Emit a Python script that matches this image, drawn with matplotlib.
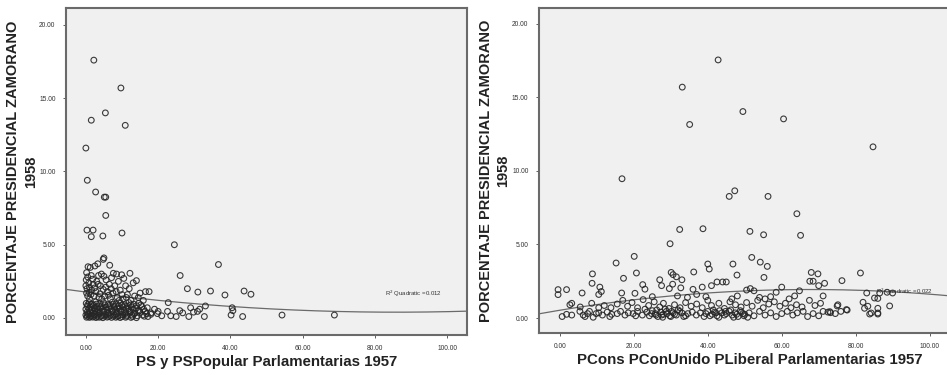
import matplotlib
matplotlib.use("Agg")
import matplotlib.pyplot as plt
import numpy as np

# ---------------- data ----------------
y_label = "PORCENTAJE PRESIDENCIAL ZAMORANO\n1958"
x_label_left = "PS y PSPopular Parlamentarias 1957"
x_label_right = "PCons PConUnido PLiberal Parlamentarias 1957"
x_ticks = [0, 20, 40, 60, 80, 100]
y_ticks = [0, 5, 10, 15, 20]
r2_left = "R$^2$ Quadratic =0.012"
r2_right = "R$^2$ Quadratic =0.022"

ps_points = [
    # outliers
    (2.2, 17.6), (9.7, 15.7), (5.4, 14.0), (1.5, 13.5), (10.9, 13.15), (0.0, 11.6),
    (0.4, 9.4), (2.7, 8.6), (5.1, 8.25), (5.5, 8.25), (5.5, 7.0), (0.3, 6.0), (2.0, 6.0),
    (1.5, 5.55), (4.7, 5.6), (10.0, 5.8), (24.5, 5.0), (5.0, 4.1), (4.8, 4.0), (36.7, 3.65),
    (26.1, 2.9), (28.1, 2.0), (31.0, 1.77), (34.5, 1.84), (38.5, 1.57), (43.8, 1.84),
    (45.7, 1.62), (54.3, 0.2), (68.8, 0.2),
    # scattered mid x
    (22.8, 1.05), (22.6, 0.45), (23.5, 0.15), (25.0, 0.1), (26.8, 0.35), (28.5, 0.1),
    (29.8, 0.4), (30.9, 0.45), (31.5, 0.6), (33.1, 0.82), (32.8, 0.1), (40.5, 0.7),
    (40.7, 0.5), (40.2, 0.2), (43.4, 0.1), (19.8, 0.3), (18.0, 0.35), (20.0, 0.45),
    (21.0, 0.15), (26.0, 0.5), (29.0, 0.7), (17.2, 0.1), (19.0, 0.6),
    # cluster upper
    (0.6, 3.5), (1.2, 3.45), (2.5, 3.55), (3.3, 3.7), (6.6, 3.6), (0.2, 3.1), (0.5, 2.8),
    (1.5, 2.9), (3.5, 2.9), (4.3, 3.0), (7.6, 3.05), (8.5, 3.0), (9.9, 2.95), (12.2, 3.05),
    (7.1, 2.75), (5.6, 2.6), (9.0, 2.5), (10.5, 2.7), (13.1, 2.4), (14.0, 2.55), (0.8, 2.4),
    (2.0, 2.3), (3.0, 2.5), (4.0, 2.2), (6.5, 2.3), (8.0, 2.2), (11.0, 2.2), (12.0, 2.0),
    (0.3, 2.0), (1.6, 1.9), (2.8, 1.8), (4.8, 1.95), (6.0, 1.8), (7.5, 1.7), (9.5, 1.9),
    (11.5, 1.6), (15.0, 1.7), (16.5, 1.8), (17.5, 1.8), (15.9, 1.2), (13.5, 1.5), (14.5, 1.4),
    (0.5, 1.5), (1.0, 1.3), (2.3, 1.5), (3.6, 1.4), (5.2, 1.5), (6.8, 1.3), (8.7, 1.4),
    (10.3, 1.3), (12.5, 1.2), (0.1, 2.6), (1.9, 2.65), (5.0, 2.85), (3.9, 1.65), (0.9, 1.75),
    (0.0, 2.2), (1.0, 2.1), (2.4, 2.05), (3.4, 2.3), (5.5, 2.1), (7.0, 2.0), (8.4, 1.8),
    (10.0, 1.6), (0.2, 1.7), (1.4, 1.6), (4.4, 1.3), (6.3, 1.55), (9.2, 1.2), (11.2, 1.4),
    # cluster dense lower
    (0.1, 1.0), (0.9, 1.05), (1.8, 0.95), (2.7, 1.1), (3.8, 0.98), (4.9, 1.05), (6.1, 0.92),
    (7.3, 1.08), (8.4, 0.97), (9.6, 1.02), (10.8, 0.9), (11.9, 1.05), (13.2, 0.95), (14.6, 1.0),
    (0.4, 0.8), (1.3, 0.75), (2.2, 0.85), (3.2, 0.78), (4.3, 0.82), (5.5, 0.74), (6.6, 0.86),
    (7.8, 0.79), (9.0, 0.83), (10.2, 0.76), (11.4, 0.8), (12.6, 0.72), (14.0, 0.84),
    (15.5, 0.78), (17.0, 0.7),
    (0.0, 0.6), (0.8, 0.62), (1.7, 0.55), (2.6, 0.65), (3.5, 0.58), (4.6, 0.6), (5.8, 0.56),
    (7.0, 0.64), (8.1, 0.57), (9.3, 0.61), (10.5, 0.55), (11.8, 0.63), (13.1, 0.58),
    (14.4, 0.52), (16.0, 0.6),
    (0.3, 0.4), (1.1, 0.42), (2.0, 0.36), (2.9, 0.44), (3.9, 0.38), (5.0, 0.41), (6.2, 0.35),
    (7.4, 0.43), (8.6, 0.39), (9.8, 0.42), (11.0, 0.37), (12.3, 0.4), (13.6, 0.34),
    (15.0, 0.38), (16.8, 0.3), (18.0, 0.25),
    (0.0, 0.2), (0.7, 0.22), (1.5, 0.18), (2.4, 0.24), (3.3, 0.2), (4.4, 0.17), (5.5, 0.23),
    (6.7, 0.19), (7.9, 0.21), (9.0, 0.16), (10.2, 0.22), (11.5, 0.18), (12.8, 0.2),
    (14.2, 0.15), (15.7, 0.2),
    (0.2, 0.05), (1.0, 0.04), (1.9, 0.06), (2.8, 0.03), (3.7, 0.05), (4.7, 0.02), (5.9, 0.06),
    (7.1, 0.04), (8.3, 0.05), (9.5, 0.03), (11.0, 0.05), (12.5, 0.04), (14.0, 0.02),
    (0.5, 0.9), (1.4, 0.92), (2.3, 0.68), (3.0, 0.95), (4.1, 0.7), (5.3, 0.9), (6.4, 0.7),
    (7.6, 0.92), (8.8, 0.68), (10.0, 0.88), (11.2, 0.66), (12.4, 0.9), (13.8, 0.68),
    (15.2, 0.9), (16.4, 0.45), (0.6, 0.3), (1.6, 0.3), (2.5, 0.5), (3.6, 0.3), (4.8, 0.5),
    (6.0, 0.28), (7.2, 0.5), (8.4, 0.28), (9.6, 0.5), (10.8, 0.28), (12.0, 0.5),
    (13.3, 0.27), (14.8, 0.48), (16.2, 0.12), (0.4, 0.12), (1.3, 0.1), (2.2, 0.12),
    (3.1, 0.1), (4.1, 0.1), (5.2, 0.12), (6.4, 0.1), (7.6, 0.12), (8.8, 0.1), (10.0, 0.1),
    (11.3, 0.12), (12.9, 0.1),
]

pcons_points = [
    # outliers
    (42.8, 17.55), (33.1, 15.7), (49.5, 14.04), (35.1, 13.16), (60.5, 13.54), (84.7, 11.64),
    (16.8, 9.47), (45.8, 8.27), (47.3, 8.65), (56.3, 8.27), (64.1, 7.09), (65.1, 5.62),
    (32.4, 6.02), (38.7, 6.07), (51.4, 5.89), (55.1, 5.66), (29.8, 5.05), (20.1, 4.19),
    (15.2, 3.74), (51.9, 4.12), (54.2, 3.8), (56.1, 3.51), (40.0, 3.67), (40.4, 3.33),
    (46.8, 3.67), (30.1, 3.1), (30.6, 2.95), (20.7, 3.06), (17.2, 2.7), (8.8, 3.0), (8.7, 2.36),
    (47.9, 2.92), (36.2, 3.13), (68.0, 3.1), (69.8, 3.0), (81.3, 3.06), (76.3, 2.54),
    (55.2, 2.76), (27.0, 2.6), (31.5, 2.8), (33.0, 2.6), (71.6, 2.36),
    # y 1.3 - 2.5
    (-0.5, 1.93), (1.8, 1.93), (-0.5, 1.59), (6.0, 1.7), (10.8, 2.1), (11.2, 1.8), (10.5, 1.6),
    (16.7, 1.7), (20.3, 1.68), (22.4, 2.27), (23.0, 1.96), (25.0, 1.45), (27.5, 2.2),
    (29.6, 2.0), (30.5, 2.3), (31.8, 1.5), (32.7, 2.05), (34.5, 1.4), (36.0, 1.95),
    (37.0, 1.6), (38.5, 2.1), (39.5, 1.45), (41.0, 2.2), (42.5, 2.45), (44.0, 2.45),
    (45.0, 2.45), (46.5, 1.3), (48.0, 1.5), (50.5, 1.9), (51.5, 2.0), (52.5, 1.85),
    (54.0, 1.4), (55.5, 1.3), (57.0, 1.45), (58.5, 1.75), (60.0, 2.1), (62.0, 1.3),
    (63.5, 1.5), (67.6, 2.5), (68.5, 2.5), (70.0, 2.2), (71.2, 1.5), (64.8, 1.85),
    (85.1, 1.36), (86.5, 1.7), (88.5, 1.75), (90.0, 1.7), (83.0, 1.7),
    # y 0.6 - 1.3
    (2.7, 0.9), (3.2, 1.0), (5.5, 0.75), (8.6, 1.0), (10.5, 0.7), (12.0, 0.85), (13.8, 0.7),
    (15.5, 0.95), (17.0, 1.2), (18.3, 0.8), (19.5, 1.05), (21.0, 0.7), (22.5, 1.25),
    (24.0, 0.85), (25.5, 1.1), (27.0, 0.75), (28.0, 1.0), (29.5, 0.65), (31.0, 0.9),
    (32.5, 0.7), (34.0, 1.05), (35.5, 0.8), (37.0, 0.95), (38.5, 0.7), (40.0, 1.2),
    (41.0, 0.85), (43.0, 1.0), (44.5, 0.65), (46.0, 1.1), (47.5, 0.9), (49.0, 0.75),
    (50.5, 1.05), (52.0, 0.8), (53.5, 1.2), (55.0, 0.7), (56.5, 0.95), (58.0, 1.1),
    (59.5, 0.8), (61.0, 1.0), (62.5, 0.7), (64.0, 0.9), (65.5, 0.75), (67.5, 1.2),
    (69.0, 0.85), (70.5, 1.0), (75.0, 0.82), (75.2, 0.9), (77.5, 0.57), (82.0, 1.07),
    (83.3, 0.8), (86.0, 1.33), (89.2, 0.82), (82.4, 0.66), (86.0, 0.66), (77.7, 0.54),
    # y 0 - 0.5
    (0.6, 0.1), (1.8, 0.25), (3.2, 0.2), (5.4, 0.45), (6.3, 0.2), (6.8, 0.1), (7.5, 0.3),
    (9.0, 0.05), (10.5, 0.35), (11.5, 0.2), (12.8, 0.4), (14.0, 0.25), (15.5, 0.3),
    (16.4, 0.45), (17.6, 0.2), (18.5, 0.35), (19.8, 0.3), (21.0, 0.45), (22.3, 0.2),
    (23.5, 0.4), (24.2, 0.15), (25.0, 0.5), (25.8, 0.3), (26.5, 0.1), (27.3, 0.4),
    (28.0, 0.25), (28.8, 0.45), (29.7, 0.15), (30.6, 0.35), (31.5, 0.2), (32.4, 0.45),
    (33.5, 0.1), (34.6, 0.3), (35.8, 0.4), (36.9, 0.2), (38.0, 0.35), (39.0, 0.1),
    (40.0, 0.45), (41.2, 0.25), (42.5, 0.15), (43.8, 0.35), (45.0, 0.3), (45.8, 0.45),
    (46.6, 0.2), (47.4, 0.35), (48.2, 0.1), (49.1, 0.4), (50.0, 0.25), (51.2, 0.35),
    (52.5, 0.15), (54.0, 0.45), (55.5, 0.2), (57.0, 0.35), (58.5, 0.1), (60.0, 0.3),
    (61.5, 0.45), (63.0, 0.2), (64.2, 0.35), (65.8, 0.45), (67.0, 0.1), (68.5, 0.3),
    (70.0, 0.15), (71.2, 0.45), (72.5, 0.4), (73.0, 0.43), (73.2, 0.36), (74.5, 0.3),
    (76.0, 0.45), (83.8, 0.27), (84.2, 0.34), (86.0, 0.27), (86.0, 0.34),
    (26.0, 0.2), (27.8, 0.05), (29.0, 0.3), (30.0, 0.1), (41.8, 0.4), (43.0, 0.05),
    (44.5, 0.2), (47.0, 0.05), (49.8, 0.15), (50.8, 0.05),
    (23.0, 0.6), (24.8, 0.3), (26.2, 0.55), (27.5, 0.2), (28.5, 0.6), (30.2, 0.45),
    (31.0, 0.25), (32.0, 0.55), (33.0, 0.35), (34.0, 0.15), (39.5, 0.3), (40.6, 0.15),
    (41.5, 0.55), (42.2, 0.35), (43.2, 0.5), (44.8, 0.45), (46.2, 0.55), (47.8, 0.25),
    (48.8, 0.5), (49.5, 0.3), (8.0, 0.45), (9.8, 0.3), (13.5, 0.1), (20.5, 0.15),
]

# read points along the quadratic fit lines
fit_left_x = [-5.5, 20, 48, 75, 105.5]
fit_left_y = [1.98, 1.15, 0.68, 0.45, 0.45]
fit_right_x = [-5.7, 20, 40, 60, 80, 100, 105.4]
fit_right_y = [0.34, 1.12, 1.7, 1.98, 1.92, 1.65, 1.45]

# ---------------- plotting ----------------
plt.rcParams['font.family'] = ['Liberation Sans', 'DejaVu Sans']

fig = plt.figure(figsize=(9.47, 3.75), dpi=100)
fig.patch.set_facecolor('white')

ax1 = fig.add_axes([0.0697, 0.1067, 0.4234, 0.872])
ax2 = fig.add_axes([0.569, 0.112, 0.445, 0.867])

panels = [
    (ax1, ps_points, fit_left_x, fit_left_y, x_label_left, r2_left, (-5.5, 105.5), (-1.16, 21.16), 98.5, 1.64),
    (ax2, pcons_points, fit_right_x, fit_right_y, x_label_right, r2_right, (-5.7, 108.3), (-1.02, 21.09), 101.0, 1.77),
]

for ax, pts, fx, fy, xl, r2, xlim, ylim, tx, ty in panels:
    ax.set_facecolor('#f0f0f0')
    px = [p[0] for p in pts]
    py = [p[1] for p in pts]
    ax.scatter(px, py, s=17, facecolors='none', edgecolors='#262626',
               linewidths=0.8, alpha=0.9, zorder=3)
    coef = np.polyfit(fx, fy, 2)
    xs = np.linspace(xlim[0], xlim[1], 200)
    ax.plot(xs, np.polyval(coef, xs), color='#6a6a6a', lw=0.9, zorder=2)
    ax.text(tx, ty, r2, fontsize=4.3, ha='right', va='center', color='#333333', zorder=4)
    ax.set_xlim(*xlim)
    ax.set_ylim(*ylim)
    ax.set_xticks(x_ticks)
    ax.set_xticklabels([f"{v:.2f}" for v in x_ticks])
    ax.set_yticks(y_ticks)
    ax.set_yticklabels([f"{v:.2f}" for v in y_ticks])
    ax.tick_params(axis='both', labelsize=4.8, length=2.5, width=0.6, color='#444444',
                   labelcolor='#333333', pad=5)
    for s in ax.spines.values():
        s.set_color('#6a6a6a')
        s.set_linewidth(1.5)
    ax.set_xlabel(xl, fontsize=10.8, fontweight='bold', color='#222222', labelpad=2)
    ax.set_ylabel(y_label, fontsize=10.5, fontweight='bold', color='#222222',
                  labelpad=1, linespacing=1.3)

fig.savefig('out.png', dpi=100, facecolor='white')
